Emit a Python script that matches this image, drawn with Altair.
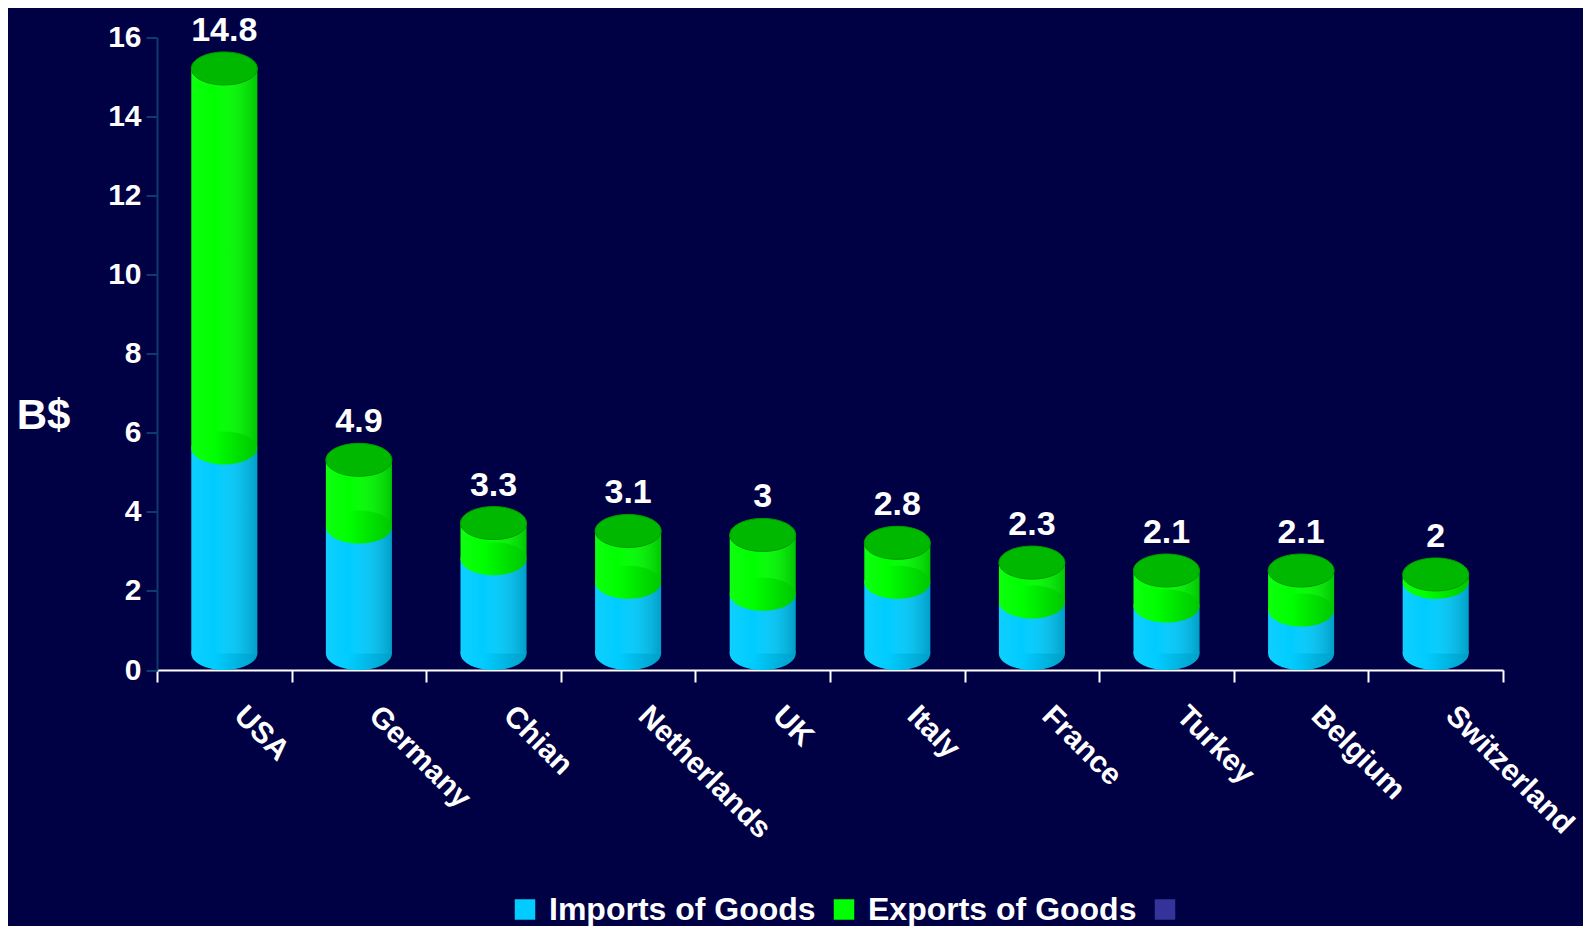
import altair as alt
import pandas as pd

# ---- data ----
countries = ["USA", "Germany", "Chian", "Netherlands", "UK", "Italy",
             "France", "Turkey", "Belgium", "Switzerland"]
imports = [5.2, 3.2, 2.4, 1.8, 1.5, 1.8, 1.3, 1.2, 1.1, 1.8]
exports = [9.6, 1.7, 0.9, 1.3, 1.5, 1.0, 1.0, 0.9, 1.0, 0.2]
totals = [14.8, 4.9, 3.3, 3.1, 3, 2.8, 2.3, 2.1, 2.1, 2]
total_labels = ["14.8", "4.9", "3.3", "3.1", "3", "2.8", "2.3", "2.1", "2.1", "2"]
y_ticks = [0, 2, 4, 6, 8, 10, 12, 14, 16]
series_names = ["Imports of Goods", "Exports of Goods", " "]
series_colors = ["#00CCFF", "#00FF00", "#333399"]

df = pd.DataFrame({
    "country": countries,
    "imports": imports,
    "exports": exports,
    "top": [a + b for a, b in zip(imports, exports)],
    "total": totals,
    "label": total_labels,
})

FONT = "Liberation Sans"
BG = "#000044"
W, H = 1346, 632.5
BAR_W = 66
ELL_H = 33
OFF = -ELL_H / 2
ELLIPSE = "M -1 0 A 1 0.5 0 1 0 1 0 A 1 0.5 0 1 0 -1 0 Z"

xaxis = alt.Axis(
    title=None, labelAngle=45, labelAlign="left", labelBaseline="top",
    labelOffset=25, labelPadding=18, labelFont=FONT, labelFontSize=30,
    labelFontWeight="bold", labelColor="white", labelLimit=0,
    tickBand="extent", tickColor="white", tickSize=12, tickWidth=2,
    domainColor="white", domainWidth=2,
)
yaxis = alt.Axis(
    title="B$", values=y_ticks, grid=False, titleAngle=0, titleX=-114,
    titleY=378, titleAlign="center", titleBaseline="middle",
    titleFont=FONT, titleFontSize=42, titleFontWeight="bold", titleColor="white",
    labelFont=FONT, labelFontSize=30, labelFontWeight="bold", labelColor="white",
    labelPadding=5, tickColor="#0B3C6E", tickSize=11, tickWidth=2,
    domainColor="#0B3C6E", domainWidth=2,
)
xs = alt.Scale(paddingInner=0, paddingOuter=0)
ys = alt.Scale(domain=[0, 16], nice=False)

X = alt.X("country:N", sort=countries, scale=xs, axis=xaxis)


def Y(field):
    return alt.Y(field, scale=ys, axis=yaxis)


def grad(c1, c2, c3):
    return alt.Gradient(
        gradient="linear", x1=0, x2=1, y1=0, y2=0,
        stops=[alt.GradientStop(color=c1, offset=0),
               alt.GradientStop(color=c2, offset=0.35),
               alt.GradientStop(color=c3, offset=1)],
    )


base = alt.Chart(df)

color_enc = alt.Color(
    "series:N",
    scale=alt.Scale(domain=series_names, range=series_colors),
    legend=alt.Legend(
        title=None, orient="none", legendX=352, legendY=856,
        direction="horizontal", symbolType="square", symbolSize=420,
        symbolStrokeWidth=0, symbolOpacity=1, labelFont=FONT,
        labelFontSize=32, labelFontWeight="bold", labelColor="white",
        labelOffset=8, columnPadding=12, labelLimit=0, padding=0,
    ),
)

bottom_ell = base.mark_point(
    shape=ELLIPSE, size=BAR_W * BAR_W, filled=True, opacity=1, strokeWidth=0,
    fill=grad("#0FD0FF", "#00CCFF", "#009FC7"), yOffset=OFF,
).encode(x=X, y=Y("zero:Q")).transform_calculate(zero="0")

imp_rect = base.mark_bar(width=BAR_W, yOffset=OFF, y2Offset=OFF, opacity=1).encode(
    x=X, y=Y("imports:Q"), y2=alt.datum(0), color=color_enc,
).transform_calculate(series="'Imports of Goods'")

exp_rect = base.mark_bar(width=BAR_W, yOffset=OFF, y2Offset=OFF, opacity=1).encode(
    x=X, y=Y("top:Q"), y2="imports:Q", color=color_enc,
).transform_calculate(series="'Exports of Goods'")

shade = base.mark_bar(
    width=BAR_W, yOffset=OFF, y2Offset=OFF,
    fill=alt.Gradient(
        gradient="linear", x1=0, x2=1, y1=0, y2=0,
        stops=[alt.GradientStop(color="rgba(255,255,255,0.06)", offset=0),
               alt.GradientStop(color="rgba(255,255,255,0.0)", offset=0.35),
               alt.GradientStop(color="rgba(0,0,0,0.22)", offset=1)],
    ),
).encode(x=X, y=Y("top:Q"), y2=alt.datum(0))

mid_ell = base.mark_point(
    shape=ELLIPSE, size=BAR_W * BAR_W, filled=True, opacity=1, strokeWidth=0,
    fill=grad("#0FFF0F", "#00FF00", "#00C700"), yOffset=OFF,
).encode(x=X, y=Y("imports:Q"))

top_ell = base.mark_point(
    shape=ELLIPSE, size=BAR_W * BAR_W, filled=True, opacity=1,
    fill="#00B800", stroke="#009A00", strokeWidth=1, yOffset=OFF,
).encode(x=X, y=Y("top:Q"))

labels = base.mark_text(
    font=FONT, fontSize=34, fontWeight="bold", color="white",
    baseline="alphabetic", align="center", dy=-44,
).encode(x=X, y=Y("total:Q"), text="label:N")

chart = alt.layer(
    bottom_ell, imp_rect, exp_rect, shade, mid_ell, top_ell, labels
).properties(
    width=W, height=H,
    autosize=alt.AutoSizeParams(type="none"),
    padding={"left": 149, "top": 29.5, "right": 80, "bottom": 256},
    background=BG,
).configure_view(stroke=None)

chart.save("out.html", embed_options={"renderer": "svg", "actions": False})
